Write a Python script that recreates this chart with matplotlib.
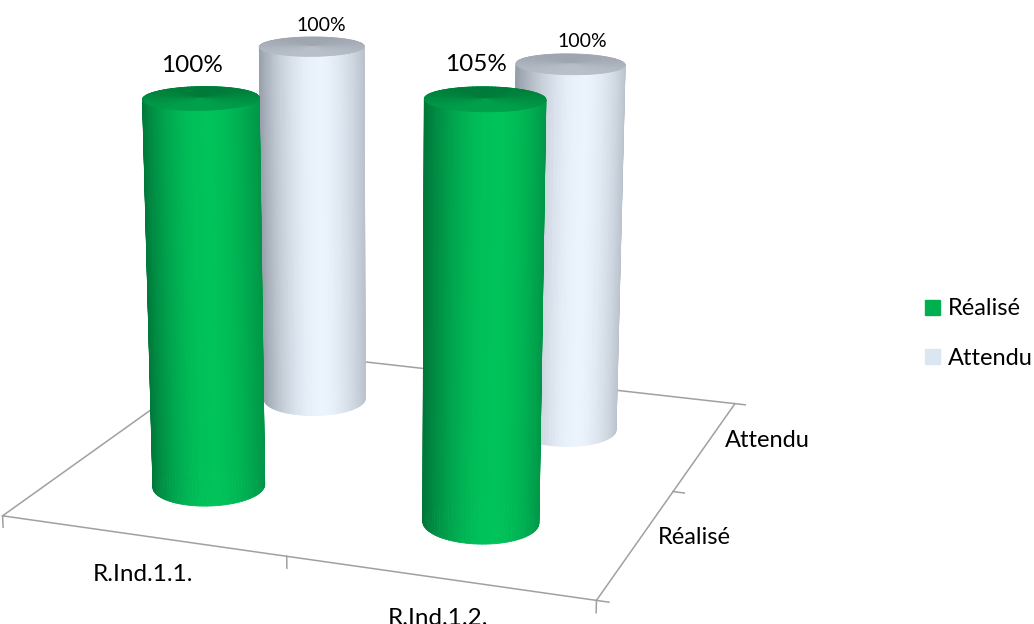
import numpy as np
import matplotlib
matplotlib.use("Agg")
import matplotlib.pyplot as plt
from matplotlib.colors import to_rgb
from matplotlib.lines import Line2D
from mpl_toolkits.mplot3d.art3d import Poly3DCollection

categories = ["R.Ind.1.1.", "R.Ind.1.2."]
series = ["Réalisé", "Attendu"]
realise = [100, 105]
attendu = [100, 100]

plt.rcParams["font.family"] = ["Lato", "DejaVu Sans"]

ELEV, AZIM = 15, -70
GREEN = dict(hi="#00C35A", edge="#00763A", top_back="#007A39", top_front="#00A04B", legend="#00B050")
GREY = dict(hi="#EBF3FD", edge="#969EA9", top_back="#9EA5AF", top_front="#B8BFC8", legend="#DCE6F2")
R = 0.195
X0, X1 = -0.04, 2.04
CAT_DX = [-0.02, 0.02]   # label nudges along the front edge


def blend(c0, c1, w):
    return np.array(to_rgb(c0)) * (1 - w) + np.array(to_rgb(c1)) * w


def cylinder(ax, xc, yc, h, pal, zo):
    th = np.linspace(0, 2 * np.pi, 97)
    a = np.radians(AZIM)
    quads, cols, wedges, tcols = [], [], [], []
    for t0, t1 in zip(th[:-1], th[1:]):
        tm = (t0 + t1) / 2
        u = np.sin(tm - a)
        w = min(1, abs(u - 0.15) / 1.15) ** 1.8
        cols.append(blend(pal["hi"], pal["edge"], w))
        tcols.append(blend(pal["top_back"], pal["top_front"], (np.cos(tm - a) + 1) / 2))
        p0 = (xc + R * np.cos(t0), yc + R * np.sin(t0))
        p1 = (xc + R * np.cos(t1), yc + R * np.sin(t1))
        quads.append([(p0[0], p0[1], 0), (p1[0], p1[1], 0), (p1[0], p1[1], h), (p0[0], p0[1], h)])
        wedges.append([(xc, yc, h), (p0[0], p0[1], h), (p1[0], p1[1], h)])
    for polys, fc, z in [(quads, cols, zo), (wedges, tcols, zo + 1)]:
        pc = Poly3DCollection(polys, facecolors=fc, edgecolors=fc, linewidths=0.6, zorder=z)
        pc.set_clip_on(False)
        ax.add_collection3d(pc)


fig = plt.figure(figsize=(10.34, 6.24), dpi=100)
ax = fig.add_axes([-0.02, 0.049, 0.78, 1.12], projection="3d", computed_zorder=False)
ax.set_proj_type("persp", focal_length=0.65)
ax.view_init(elev=ELEV, azim=AZIM)
ax.set_xlim(X0, X1); ax.set_ylim(0, 2); ax.set_zlim(0, 120)
ax.set_box_aspect(((X1 - X0) / 2, 1, 0.83), zoom=1.31)
ax.set_axis_off()

# floor outline + ticks
fc = "#A0A0A0"
ax.plot([X0, X1, X1, X0, X0], [0, 0, 2, 2, 0], [0, 0, 0, 0, 0], color=fc, lw=1.1, zorder=0, clip_on=False)
for xt in [X0, 1, X1]:
    ax.plot([xt, xt], [0, 0], [0, -3], color=fc, lw=1.1, zorder=0, clip_on=False)
for yt in [0, 1, 2]:
    ax.plot([X1, X1 + 0.04], [yt, yt], [0, 0], color=fc, lw=1.1, zorder=0, clip_on=False)

xs = [0.5, 1.5]
ys = [0.5, 1.5]
zo = 2
for i, v in enumerate(attendu):
    cylinder(ax, xs[i], ys[1], v, GREY, zo); zo += 2
    ax.text(xs[i] + 0.04, ys[1], v + 6, f"{v}%", ha="center", va="center", fontsize=14, zorder=20)
for i, v in enumerate(realise):
    cylinder(ax, xs[i], ys[0], v, GREEN, zo); zo += 2
    ax.text(xs[i] - 0.03, ys[0], v + 8, f"{v}%", ha="center", va="center", fontsize=17.5, zorder=20)

for i, c in enumerate(categories):
    ax.text(xs[i] + CAT_DX[i], 0, -10, c, ha="center", va="center", fontsize=17.5)
for j, s in enumerate(series):
    ax.text(X1 + 0.07, ys[j], 2, s, ha="left", va="center", fontsize=17)

handles = [Line2D([], [], marker="s", ls="", color=GREEN["legend"], markersize=10.8),
           Line2D([], [], marker="s", ls="", color=GREY["legend"], markersize=10.8)]
fig.legend(handles, series, loc="center left", bbox_to_anchor=(0.893, 0.4655), frameon=False,
           fontsize=17, handlelength=0.7, handletextpad=0.35, labelspacing=1.2,
           borderpad=0, borderaxespad=0)

fig.savefig("out.png", dpi=100)
